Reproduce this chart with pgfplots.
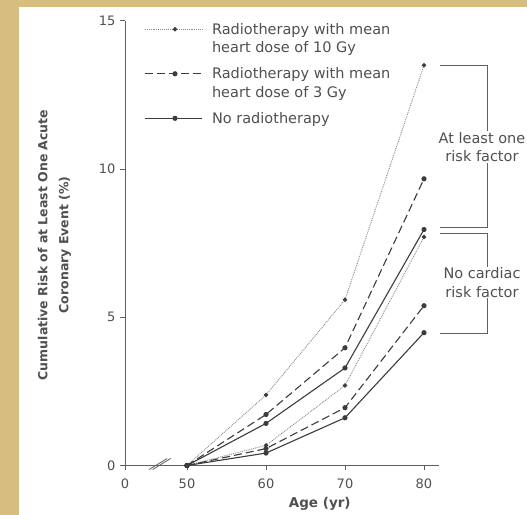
\documentclass[border=0pt]{standalone}
\usepackage{pgfplots}
\pgfplotsset{compat=1.18}
\usepackage{fontspec}
\setmainfont{DejaVu Sans}
\definecolor{bgtan}{RGB}{214,190,128}
\definecolor{txt}{HTML}{505050}
\definecolor{axc}{HTML}{606060}
\definecolor{ln}{HTML}{3C3C3C}
\definecolor{dt}{HTML}{8A8A8A}
\begin{document}
\begin{tikzpicture}[x=1bp,y=1bp]
\useasboundingbox (0,0) rectangle (527,515);
\clip (0,0) rectangle (527,515);
\fill[bgtan] (0,0) rectangle (527,515);
\fill[white] (19,0) rectangle (527,508);
\begin{axis}[
  at={(125bp,49.5bp)}, anchor=south west,
  scale only axis, width=313.6bp, height=444.7bp,
  xmin=42.15, xmax=81.85, ymin=0, ymax=15,
  axis x line*=bottom, axis y line*=left,
  axis line style={axc, line width=0.8bp, -},
  xtick={42.15,50,60,70,80}, xticklabels={0,50,60,70,80},
  ytick={0,5,10,15},
  tick align=outside, major tick length=5bp,
  tick style={axc, line width=0.8bp},
  /pgf/number format/assume math mode=true,
  ticklabel style={font=\fontsize{13bp}{15bp}\selectfont, text=txt},
  xticklabel style={yshift=-5bp},
  yticklabel style={xshift=-1bp},
  xlabel={Age (yr)},
  xlabel style={at={(axis description cs:0.621,-0.0866)}, anchor=center, font=\bfseries\fontsize{13.5bp}{16bp}\selectfont, text=txt},
  ylabel={Cumulative Risk of at Least One Acute\\Coronary Event (\%)},
  ylabel style={align=center, at={(axis description cs:-0.2248,0.496)}, anchor=center, font=\bfseries\fontsize{12.5bp}{21bp}\selectfont, text=txt},
  clip=false,
  ten/.style={dt, densely dotted, line width=0.9bp, mark=*, mark size=1.7bp, mark options={solid, fill=ln, draw=ln}},
  three/.style={ln, dash pattern=on 8bp off 4bp, line width=1.1bp, mark=*, mark size=2bp, mark options={solid, fill=ln}},
  none/.style={ln, solid, line width=1.1bp, mark=*, mark size=2bp, mark options={fill=ln}},
  legend style={draw=none, fill=none, at={(axis description cs:0.062,0.995)}, anchor=north west, inner sep=0pt, outer sep=0pt, row sep=13.5bp,
    nodes={inner sep=0pt, align=left, text=txt, font=\fontsize{14.5bp}{18.5bp}\selectfont},
    /tikz/every odd column/.append style={column sep=9.5bp}},
  legend cell align=left,
  legend image code/.code={\draw[mark repeat=2,mark phase=2,#1] plot coordinates {(0bp,0bp) (30bp,0bp) (57bp,0bp)};},
]
\addlegendimage{ten, yshift=9.25bp}
\addlegendentry{Radiotherapy with mean\\heart dose of 10 Gy}
\addlegendimage{three, yshift=9.25bp}
\addlegendentry{Radiotherapy with mean\\heart dose of 3 Gy}
\addlegendimage{none}
\addlegendentry{No radiotherapy}
% at least one risk factor
\addplot[ten, forget plot] coordinates {(50,0) (60,2.38) (70,5.59) (80,13.5)};
\addplot[three, forget plot] coordinates {(50,0) (60,1.72) (70,3.97) (80,9.67)};
\addplot[none, forget plot] coordinates {(50,0) (60,1.42) (70,3.29) (80,7.96)};
% no cardiac risk factor
\addplot[ten, forget plot] coordinates {(50,0) (60,0.68) (70,2.70) (80,7.71)};
\addplot[three, forget plot] coordinates {(50,0) (60,0.57) (70,1.95) (80,5.39)};
\addplot[none, forget plot] coordinates {(50,0) (60,0.42) (70,1.61) (80,4.48)};
% axis break mark
\draw[axc, line width=0.8bp] (axis cs:46.6,0) ++(-11bp,-4bp) -- ++(18bp,11bp);
\draw[axc, line width=0.8bp] (axis cs:46.6,0) ++(-7.5bp,-4bp) -- ++(18bp,11bp);
\end{axis}
\draw[axc, line width=0.8bp] (440,449.5) -- (487,449.5) -- (487,288) -- (440,288);
\draw[axc, line width=0.8bp] (440,282) -- (487,282) -- (487,182) -- (440,182);
\node[fill=white, align=center, font=\fontsize{14.5bp}{18.5bp}\selectfont, text=txt, inner sep=1bp] at (482,368) {At least one\\risk factor};
\node[fill=white, align=center, font=\fontsize{14.5bp}{18.5bp}\selectfont, text=txt, inner sep=1bp] at (482,232.5) {No cardiac\\risk factor};
\end{tikzpicture}
\end{document}
